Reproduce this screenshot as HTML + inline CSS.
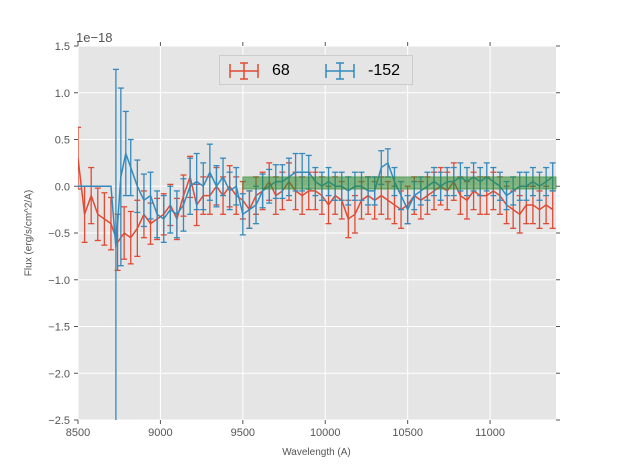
<!DOCTYPE html>
<html><head><meta charset="utf-8"><style>
body{margin:0;background:#fff;}
svg{display:block;font-family:"Liberation Sans",sans-serif;}
</style></head><body>
<svg id="chart" width="617" height="467"></svg>
<script>
const redX=[8500,8540,8580,8620,8660,8700,8740,8780,8820,8860,8900,8940,8980,9020,9060,9100,9140,9180,9220,9260,9300,9340,9380,9420,9460,9500,9540,9580,9620,9660,9700,9740,9780,9820,9860,9900,9940,9980,10020,10060,10100,10140,10180,10220,10260,10300,10340,10380,10420,10460,10500,10540,10580,10620,10660,10700,10740,10780,10820,10860,10900,10940,10980,11020,11060,11100,11140,11180,11220,11260,11300,11340,11380];
const redY=[0.3,-0.3,-0.1,-0.3,-0.35,-0.4,-0.6,-0.5,-0.55,-0.45,-0.3,-0.4,-0.35,-0.3,-0.2,-0.35,-0.1,0.1,-0.2,-0.1,-0.1,0.0,-0.1,0.0,-0.1,-0.15,-0.25,-0.1,-0.05,0.05,-0.1,-0.05,0.05,-0.05,-0.1,-0.05,-0.05,-0.1,-0.2,-0.1,-0.15,-0.35,-0.3,-0.15,-0.1,-0.15,-0.1,-0.15,-0.2,-0.25,-0.2,-0.1,-0.15,-0.1,-0.05,0.0,-0.05,0.05,-0.1,-0.15,-0.05,-0.1,-0.1,-0.05,-0.1,-0.2,-0.25,-0.3,-0.2,-0.2,-0.25,-0.2,-0.25];
const redErr=[0.33,0.3,0.3,0.28,0.28,0.28,0.3,0.28,0.28,0.3,0.25,0.22,0.22,0.22,0.22,0.22,0.22,0.22,0.22,0.2,0.2,0.2,0.2,0.22,0.2,0.2,0.2,0.2,0.2,0.2,0.2,0.2,0.2,0.2,0.2,0.2,0.2,0.2,0.2,0.2,0.2,0.2,0.2,0.2,0.2,0.2,0.2,0.2,0.2,0.2,0.2,0.2,0.2,0.2,0.2,0.2,0.2,0.2,0.2,0.2,0.2,0.2,0.2,0.2,0.2,0.2,0.2,0.2,0.2,0.2,0.2,0.2,0.2];
const blueX=[8500,8700,8730,8760,8790,8820,8860,8900,8940,8980,9020,9060,9100,9140,9180,9220,9260,9300,9340,9380,9420,9460,9500,9540,9580,9620,9660,9700,9740,9780,9820,9860,9900,9940,9980,10020,10060,10100,10140,10180,10220,10260,10300,10340,10380,10420,10460,10500,10540,10580,10620,10660,10700,10740,10780,10820,10860,10900,10940,10980,11020,11060,11100,11140,11180,11220,11260,11300,11340,11380];
const blueY=[0.0,0.0,-0.65,0.1,0.35,0.2,0.0,-0.15,-0.1,-0.3,-0.35,-0.25,-0.3,-0.2,0.0,0.05,0.0,0.15,0.0,0.1,-0.05,0.0,-0.3,-0.25,-0.2,-0.05,0.0,0.05,0.05,0.1,0.15,0.15,0.15,0.05,0.0,0.05,0.0,0.0,-0.05,0.0,0.0,-0.05,-0.05,0.2,0.25,0.05,-0.1,-0.25,-0.1,-0.05,0.0,0.05,0.0,0.05,0.05,0.1,0.05,0.1,0.05,0.1,0.05,0.0,-0.1,-0.05,0.0,0.0,0.05,0.0,0.05,0.1];
const blueErr=[0,0,1.9,0.95,0.45,0.3,0.28,0.28,0.25,0.25,0.25,0.25,0.25,0.28,0.3,0.3,0.25,0.3,0.22,0.2,0.2,0.2,0.22,0.2,0.2,0.18,0.18,0.18,0.18,0.2,0.2,0.2,0.18,0.15,0.15,0.15,0.15,0.15,0.15,0.15,0.15,0.15,0.15,0.18,0.15,0.15,0.15,0.15,0.15,0.15,0.15,0.15,0.15,0.15,0.15,0.15,0.15,0.15,0.15,0.15,0.15,0.15,0.15,0.15,0.15,0.15,0.15,0.15,0.15,0.15];
const xTicks=[8500,9000,9500,10000,10500,11000];
const yTicks=[1.5,1.0,0.5,0.0,-0.5,-1.0,-1.5,-2.0,-2.5];
const yTickLabels=["1.5","1.0","0.5","0.0","\u22120.5","\u22121.0","\u22121.5","\u22122.0","\u22122.5"];
const band=[9500,11400,-0.03,0.1];

const L=78,R=556,T=46,B=420,x0=8500,x1=11400,y0=-2.5,y1=1.5;
const sx=v=>L+(v-x0)/(x1-x0)*(R-L);
const sy=v=>B-(v-y0)/(y1-y0)*(B-T);
const NS="http://www.w3.org/2000/svg";
const svg=document.getElementById('chart');
function mk(tag,attrs,parent){const e=document.createElementNS(NS,tag);for(const k in attrs)e.setAttribute(k,attrs[k]);(parent||svg).appendChild(e);return e;}

const bg=mk('rect',{x:L,y:T,width:R-L,height:B-T,fill:'#e5e5e5'});


const grid=mk('g',{stroke:'#fff','stroke-width':1});


xTicks.forEach(v=>mk('line',{x1:sx(v),x2:sx(v),y1:T,y2:B},grid));
yTicks.forEach(v=>mk('line',{x1:L,x2:R,y1:sy(v),y2:sy(v)},grid));

const clip=mk('clipPath',{id:'cp'});mk('rect',{x:L,y:T,width:R-L,height:B-T},clip);

function series(xs,ys,es,color,name){
  const g=mk('g',{stroke:color,'stroke-width':1.3,fill:'none','clip-path':'url(#cp)'});
  
  
  xs.forEach((x,i)=>{if(!es[i])return;const px=sx(x),a=sy(ys[i]+es[i]),b=sy(ys[i]-es[i]);
    mk('line',{x1:px,x2:px,y1:a,y2:b},g);
    mk('line',{x1:px-3,x2:px+3,y1:a,y2:a},g);
    mk('line',{x1:px-3,x2:px+3,y1:b,y2:b},g);});
  mk('polyline',{points:xs.map((x,i)=>sx(x)+','+sy(ys[i])).join(' '),'stroke-width':1.5},g);
}
series(redX,redY,redErr,'#e24a33','series-68');
series(blueX,blueY,blueErr,'#348abd','series-minus-152');

const bd=mk('rect',{x:sx(band[0]),y:sy(band[3]),width:sx(band[1])-sx(band[0]),height:sy(band[2])-sy(band[3]),fill:'#2e8b2e','fill-opacity':0.55,stroke:'#2e8b2e','stroke-opacity':0.6});



const ax=mk('g',{fill:'#555','font-size':11});


xTicks.forEach(v=>{mk('line',{x1:sx(v),x2:sx(v),y1:B,y2:B+4,stroke:'#555'},ax);mk('line',{x1:sx(v),x2:sx(v),y1:T,y2:T-4,stroke:'#555'},ax);
  const t=mk('text',{x:sx(v),y:B+16,'text-anchor':'middle'},ax);t.textContent=v;});
yTicks.forEach((v,i)=>{mk('line',{x1:L,x2:L-4,y1:sy(v),y2:sy(v),stroke:'#555'},ax);mk('line',{x1:R,x2:R+4,y1:sy(v),y2:sy(v),stroke:'#555'},ax);
  const t=mk('text',{x:L-8,y:sy(v)+4,'text-anchor':'end'},ax);t.textContent=yTickLabels[i];});
</script>
<div style="position:absolute;left:76px;top:30px;font:13px 'Liberation Sans',sans-serif;color:#555">1e−18</div>
<div style="position:absolute;left:0;width:617px;top:447px;text-align:center;font:10px 'Liberation Sans',sans-serif;color:#555"><span style="position:relative;left:8px">Wavelength (A)</span></div>
<div style="position:absolute;left:29px;top:233px;transform:translate(-50%,-50%) rotate(-90deg);font:10px 'Liberation Sans',sans-serif;color:#555;white-space:nowrap">Flux (erg/s/cm^2/A)</div>
<div style="position:absolute;left:219px;top:55px;width:194px;height:30px;background:#e5e5e5;border:1px solid #ccc;box-sizing:border-box;font:16px 'Liberation Sans',sans-serif">
 <div style="position:absolute;left:8px;top:5px;">
  <svg width="32" height="20" style="position:absolute;left:0;top:0"><g stroke="#e24a33" stroke-width="1.5"><line x1="2" y1="10" x2="30" y2="10"/><line x1="16" y1="2" x2="16" y2="18"/><line x1="12" y1="2" x2="20" y2="2"/><line x1="12" y1="18" x2="20" y2="18"/><line x1="2" y1="3" x2="2" y2="17"/><line x1="30" y1="3" x2="30" y2="17"/></g></svg>
  <span style="position:absolute;left:44px;top:1px">68</span></div>
 <div style="position:absolute;left:104px;top:5px;">
  <svg width="32" height="20" style="position:absolute;left:0;top:0"><g stroke="#348abd" stroke-width="1.5"><line x1="2" y1="10" x2="30" y2="10"/><line x1="16" y1="2" x2="16" y2="18"/><line x1="12" y1="2" x2="20" y2="2"/><line x1="12" y1="18" x2="20" y2="18"/><line x1="2" y1="3" x2="2" y2="17"/><line x1="30" y1="3" x2="30" y2="17"/></g></svg>
  <span style="position:absolute;left:44px;top:1px">-152</span></div>
</div>
</body></html>
